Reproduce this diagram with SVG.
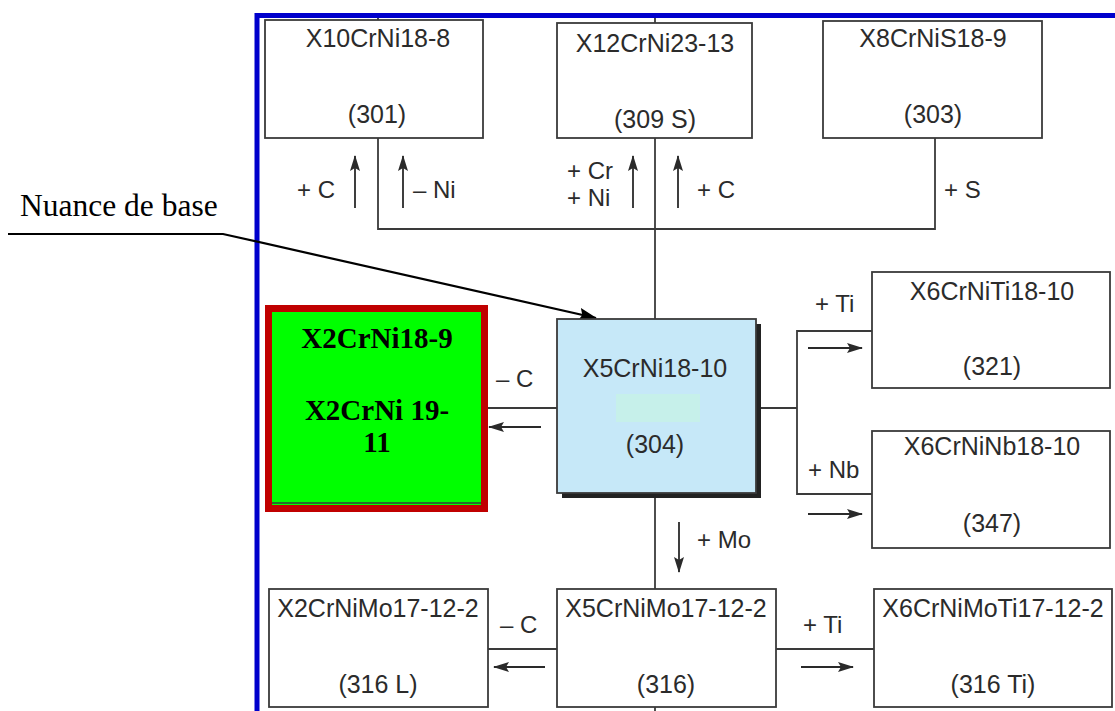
<svg xmlns="http://www.w3.org/2000/svg" width="1115" height="711" viewBox="0 0 1115 711">
<defs>
<style>
.box{fill:#fff;stroke:#3a3a3a;stroke-width:1.8}
.ln{fill:none;stroke:#3a3a3a;stroke-width:1.8}
.ar{fill:none;stroke:#2a2a2a;stroke-width:1.8;marker-end:url(#ah)}
.t{font-family:"Liberation Sans",Arial,sans-serif;font-size:25px;fill:#2b2b2b;text-anchor:middle}
.lb{font-family:"Liberation Sans",Arial,sans-serif;font-size:24px;fill:#2b2b2b}
.g{font-family:"Liberation Serif","Times New Roman",serif;font-size:29px;font-weight:bold;fill:#000;text-anchor:middle}
</style>
<marker id="ah" markerWidth="16" markerHeight="10" refX="15" refY="5" orient="auto" markerUnits="userSpaceOnUse">
<path d="M0,0 L16,5 L0,10 L3,5 Z" fill="#2a2a2a"/>
</marker>
<marker id="ahb" markerWidth="18" markerHeight="13" refX="17" refY="6.5" orient="auto" markerUnits="userSpaceOnUse">
<path d="M0,0 L18,6.5 L0,13 L3,6.5 Z" fill="#000"/>
</marker>
</defs>
<rect width="1115" height="711" fill="#fff"/>
<g id="frame">
<line x1="257" y1="15.5" x2="1115" y2="15.5" stroke="#0000CC" stroke-width="5"/>
<line x1="257" y1="13" x2="257" y2="711" stroke="#0000CC" stroke-width="5"/>
</g>
<g id="connectors">
<line class="ln" x1="378" y1="18" x2="378" y2="20"/>
<line class="ln" x1="655" y1="18" x2="655" y2="23"/>
<polyline class="ln" points="378,138 378,229 935,229 935,138"/>
<line class="ln" x1="655" y1="138" x2="655" y2="319"/>
<line class="ln" x1="487" y1="408" x2="557" y2="408"/>
<polyline class="ln" points="872,331 797,331 797,494 872,494"/>
<line class="ln" x1="761" y1="408" x2="797" y2="408"/>
<line class="ln" x1="655" y1="498" x2="655" y2="589"/>
<line class="ln" x1="655" y1="707" x2="655" y2="711"/>
<line class="ln" x1="488" y1="649" x2="557" y2="649"/>
<line class="ln" x1="776" y1="649" x2="874" y2="649"/>
<line class="ar" x1="355" y1="208" x2="355" y2="156"/>
<line class="ar" x1="403" y1="208" x2="403" y2="156"/>
<line class="ar" x1="633" y1="208" x2="633" y2="156"/>
<line class="ar" x1="678" y1="208" x2="678" y2="156"/>
<line class="ar" x1="541" y1="427" x2="489" y2="427"/>
<line class="ar" x1="808" y1="348" x2="862" y2="348"/>
<line class="ar" x1="808" y1="514" x2="862" y2="514"/>
<line class="ar" x1="679" y1="522" x2="679" y2="572"/>
<line class="ar" x1="545" y1="667" x2="494" y2="667"/>
<line class="ar" x1="801" y1="667" x2="853" y2="667"/>
<polyline points="8,234 223,234 596,318" fill="none" stroke="#000" stroke-width="2.2" marker-end="url(#ahb)"/>
</g>
<g id="labels">
<text class="lb" x="297" y="198">+ C</text>
<text class="lb" x="413" y="198">– Ni</text>
<text class="lb" x="567" y="179">+ Cr</text>
<text class="lb" x="567" y="206">+ Ni</text>
<text class="lb" x="697" y="198">+ C</text>
<text class="lb" x="944" y="198">+ S</text>
<text class="lb" x="496" y="387">– C</text>
<text class="lb" x="815" y="312">+ Ti</text>
<text class="lb" x="808" y="478">+ Nb</text>
<text class="lb" x="697" y="548">+ Mo</text>
<text class="lb" x="500" y="633">– C</text>
<text class="lb" x="803" y="633">+ Ti</text>
<text x="20" y="216" font-family="'Liberation Serif','Times New Roman',serif" font-size="31.5" fill="#000">Nuance de base</text>
</g>
<g id="n301">
<rect class="box" x="265" y="20" width="218" height="118"/>
<text class="t" x="378" y="47">X10CrNi18-8</text>
<text class="t" x="377" y="123">(301)</text>
</g>
<g id="n309S">
<rect class="box" x="557" y="23" width="195" height="115"/>
<text class="t" x="655" y="52">X12CrNi23-13</text>
<text class="t" x="655" y="128">(309 S)</text>
</g>
<g id="n303">
<rect class="box" x="823" y="21" width="219" height="117"/>
<text class="t" x="933" y="47">X8CrNiS18-9</text>
<text class="t" x="933" y="123">(303)</text>
</g>
<g id="nL">
<rect x="268.5" y="308.5" width="216" height="200" fill="#00FF00" stroke="#C00000" stroke-width="7"/>
<line x1="272" y1="503" x2="481" y2="503" stroke="#3a3a3a" stroke-width="1.5"/>
<text class="g" x="377" y="348">X2CrNi18-9</text>
<text class="g" x="377" y="420">X2CrNi 19-</text>
<text class="g" x="377" y="452">11</text>
</g>
<g id="n304">
<rect x="562" y="324" width="199" height="174" fill="#222"/>
<rect x="557" y="319" width="199" height="174" fill="#C6E8F8" stroke="#3a3a3a" stroke-width="1.8"/>
<rect x="616" y="394" width="84" height="28" fill="#C6F0EA"/>
<text class="t" x="655" y="377">X5CrNi18-10</text>
<text class="t" x="655" y="453">(304)</text>
</g>
<g id="n321">
<rect class="box" x="872" y="272" width="238" height="116"/>
<text class="t" x="992" y="300">X6CrNiTi18-10</text>
<text class="t" x="992" y="375">(321)</text>
</g>
<g id="n347">
<rect class="box" x="872" y="431" width="238" height="117"/>
<text class="t" x="992" y="455">X6CrNiNb18-10</text>
<text class="t" x="992" y="532">(347)</text>
</g>
<g id="n316L">
<rect class="box" x="269" y="589" width="219" height="118"/>
<text class="t" x="378" y="617">X2CrNiMo17-12-2</text>
<text class="t" x="378" y="693">(316 L)</text>
</g>
<g id="n316">
<rect class="box" x="557" y="589" width="219" height="118"/>
<text class="t" x="666" y="617">X5CrNiMo17-12-2</text>
<text class="t" x="666" y="693">(316)</text>
</g>
<g id="n316Ti">
<rect class="box" x="874" y="589" width="238" height="118"/>
<text class="t" x="993" y="617">X6CrNiMoTi17-12-2</text>
<text class="t" x="993" y="693">(316 Ti)</text>
</g>
</svg>
